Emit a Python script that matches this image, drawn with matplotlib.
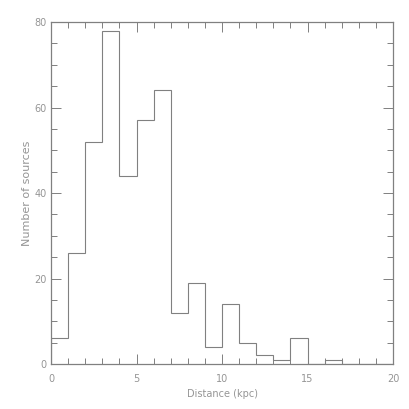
import numpy as np
import matplotlib
matplotlib.use('Agg')
import matplotlib.pyplot as plt
from matplotlib.ticker import MultipleLocator

# histogram counts, bins of 1 kpc from 0 to 20
bin_edges = list(range(0, 21))
counts = [6, 26, 52, 78, 44, 57, 64, 12, 19, 4, 14, 5, 2, 1, 6, 0, 1, 0, 0, 0]

line_c = '#808080'
text_c = '#959595'

fig = plt.figure(figsize=(4.09, 4.09), dpi=100)
ax = fig.add_axes([0.1247, 0.110, 0.8363, 0.836])

ax.stairs(counts, bin_edges, color=line_c, lw=0.8)

ax.set_xlim(0, 20)
ax.set_ylim(0, 80)
ax.xaxis.set_major_locator(MultipleLocator(5))
ax.xaxis.set_minor_locator(MultipleLocator(1))
ax.yaxis.set_major_locator(MultipleLocator(20))
ax.yaxis.set_minor_locator(MultipleLocator(5))
ax.tick_params(which='both', direction='in', top=True, right=True,
               color=line_c, labelcolor=text_c, labelsize=7, width=0.7)
ax.tick_params(which='major', length=7)
ax.tick_params(axis='x', which='major', pad=7)
ax.tick_params(axis='y', which='major', pad=3)
ax.tick_params(which='minor', length=4)
for s in ax.spines.values():
    s.set_color(line_c); s.set_linewidth(0.9)

ax.set_xlabel('Distance (kpc)', color=text_c, fontsize=7)
ax.set_ylabel('Number of sources', color=text_c, fontsize=8)
ax.xaxis.set_label_coords(0.5, -0.072)
ax.yaxis.set_label_coords(-0.055, 0.5)

fig.savefig('out.png', dpi=100, facecolor='white')
